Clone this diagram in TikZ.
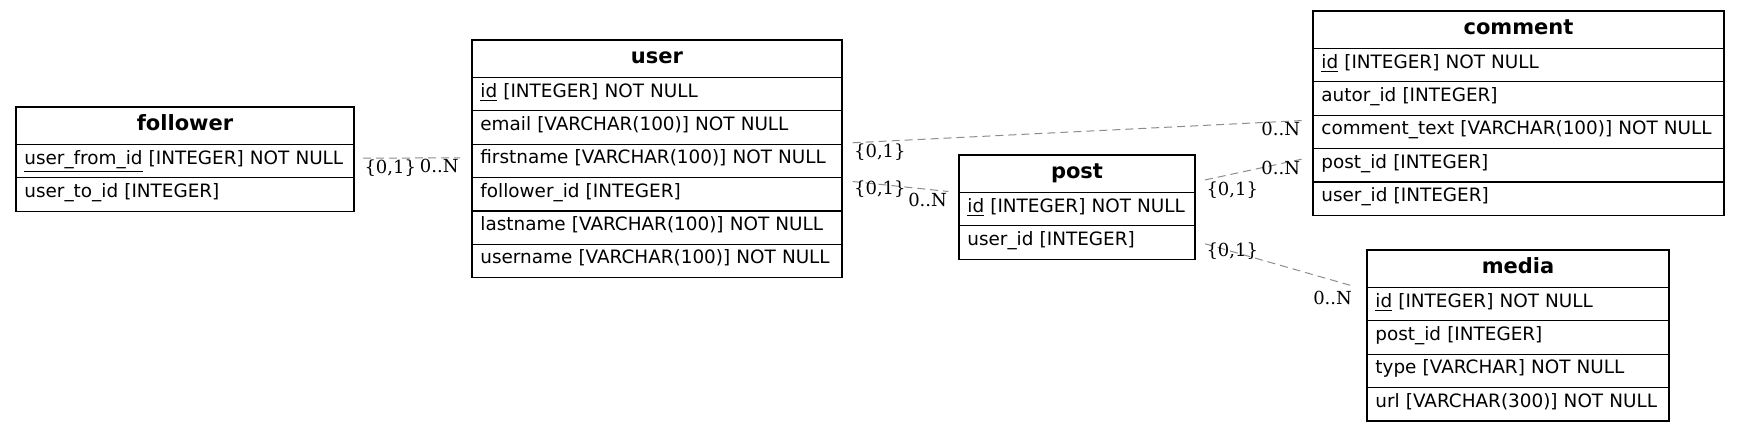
\documentclass[tikz,border=0pt]{standalone}
\usepackage{fontspec}
\setsansfont{DejaVu Sans}
\newfontfamily\cardfont{DejaVu Serif}
\usetikzlibrary{positioning}
\definecolor{relgray}{HTML}{8C8C8C}

\tikzset{
  tblhead/.style={draw, line width=0.65pt, outer sep=0pt, inner xsep=4.2pt, inner ysep=0pt,
    minimum height=18.75pt, text width=#1, align=center,
    font=\sffamily\bfseries\fontsize{10.5}{12}\selectfont, text height=7.5pt, text depth=2.9pt},
  tblrow/.style={draw, line width=0.65pt, outer sep=0pt, inner xsep=4.2pt, inner ysep=0pt,
    minimum height=16.67pt, text width=#1, align=left,
    font=\sffamily\fontsize{9.2}{11}\selectfont, text height=6.3pt, text depth=3.2pt},
  rel/.style={draw=relgray, line width=0.5pt, dash pattern=on 4pt off 2.5pt},
  card/.style={inner sep=0.5pt, font=\cardfont\fontsize{9}{10}\selectfont},
}

\begin{document}
\begin{tikzpicture}[x=0.5pt, y=-0.5pt]
  \useasboundingbox (0,0) rectangle (1739,431);
  % follower
  \node[tblhead=160.6pt, anchor=north west] (f0) at (16,107) {follower};
  \node[tblrow=160.6pt, below=0pt of f0] (f1) {\underline{user\_from\_id} [INTEGER] NOT NULL};
  \node[tblrow=160.6pt, below=0pt of f1] (f2) {user\_to\_id [INTEGER]};
  % user
  \node[tblhead=176.6pt, anchor=north west] (u0) at (472,40) {user};
  \node[tblrow=176.6pt, below=0pt of u0] (u1) {\underline{id} [INTEGER] NOT NULL};
  \node[tblrow=176.6pt, below=0pt of u1] (u2) {email [VARCHAR(100)] NOT NULL};
  \node[tblrow=176.6pt, below=0pt of u2] (u3) {firstname [VARCHAR(100)] NOT NULL};
  \node[tblrow=176.6pt, below=0pt of u3] (u4) {follower\_id [INTEGER]};
  \node[tblrow=176.6pt, below=0pt of u4] (u5) {lastname [VARCHAR(100)] NOT NULL};
  \node[tblrow=176.6pt, below=0pt of u5] (u6) {username [VARCHAR(100)] NOT NULL};
  % post
  \node[tblhead=109.6pt, anchor=north west] (p0) at (959,155) {post};
  \node[tblrow=109.6pt, below=0pt of p0] (p1) {\underline{id} [INTEGER] NOT NULL};
  \node[tblrow=109.6pt, below=0pt of p1] (p2) {user\_id [INTEGER]};
  % comment
  \node[tblhead=197.1pt, anchor=north west] (c0) at (1313,11) {comment};
  \node[tblrow=197.1pt, below=0pt of c0] (c1) {\underline{id} [INTEGER] NOT NULL};
  \node[tblrow=197.1pt, below=0pt of c1] (c2) {autor\_id [INTEGER]};
  \node[tblrow=197.1pt, below=0pt of c2] (c3) {comment\_text [VARCHAR(100)] NOT NULL};
  \node[tblrow=197.1pt, below=0pt of c3] (c4) {post\_id [INTEGER]};
  \node[tblrow=197.1pt, below=0pt of c4] (c5) {user\_id [INTEGER]};
  % media
  \node[tblhead=142.6pt, anchor=north west] (m0) at (1367,250) {media};
  \node[tblrow=142.6pt, below=0pt of m0] (m1) {\underline{id} [INTEGER] NOT NULL};
  \node[tblrow=142.6pt, below=0pt of m1] (m2) {post\_id [INTEGER]};
  \node[tblrow=142.6pt, below=0pt of m2] (m3) {type [VARCHAR] NOT NULL};
  \node[tblrow=142.6pt, below=0pt of m3] (m4) {url [VARCHAR(300)] NOT NULL};

  % relations
  \draw[rel] ([shift={(4.5pt,1.5pt)}]f1.east) node[card, anchor=north west] {\{0,1\}}
    -- ([shift={(-6pt,1.5pt)}]u3.west) node[card, anchor=north east] {0..N};
  \draw[rel] ([shift={(5.3pt,0.7pt)}]u3.north east) node[card, anchor=north west] {\{0,1\}}
    -- ([shift={(-5.7pt,-2.7pt)}]c3.north west) node[card, anchor=north east] {0..N};
  \draw[rel] ([shift={(5.3pt,-2pt)}]u4.north east) node[card, anchor=north west, yshift=1pt] {\{0,1\}}
    -- ([shift={(-5.3pt,0.5pt)}]p0.south west) node[card, anchor=north east] {0..N};
  \draw[rel] ([shift={(5pt,-3.1pt)}]p0.east) node[card, anchor=north west] {\{0,1\}}
    -- ([shift={(-5.7pt,3pt)}]c4.west) node[card, anchor=north east] {0..N};
  \draw[rel] ([shift={(5pt,-0.65pt)}]p2.east) node[card, anchor=north west, yshift=1pt] {\{0,1\}}
    -- ([shift={(-6.8pt,0.65pt)}]m0.south west) node[card, anchor=north east, yshift=-1.5pt] {0..N};
\end{tikzpicture}
\end{document}
